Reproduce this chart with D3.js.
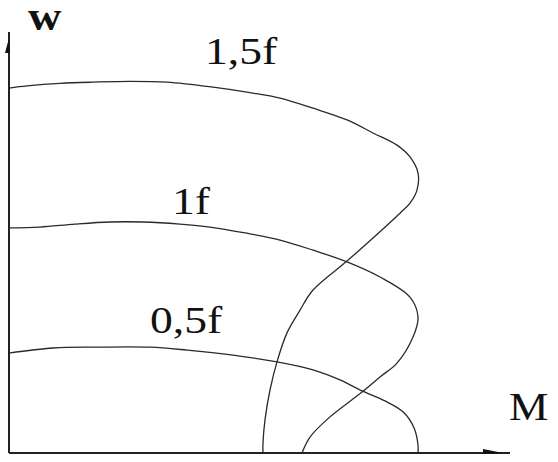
<!DOCTYPE html>
<html>
<head>
<meta charset="utf-8">
<script src="https://cdn.jsdelivr.net/npm/d3@7"></script>
<style>
  html, body { margin: 0; padding: 0; background: #fff; }
  svg text { font-family: "Liberation Serif", "DejaVu Serif", serif; fill: #111; }
</style>
</head>
<body>
<svg id="chart" width="558" height="462"></svg>
<script>
// Torque (M) vs speed (w) characteristics at three supply frequencies.
const curveNames = ["1,5f", "1f", "0,5f"];

const torque15 = [0, 3.6, 10.2, 16.8, 24.2, 31.6, 40.8, 48.2, 54.2, 60.8, 67.6, 72.8, 77.6, 80.2, 81.8, 81.6, 80.2, 78.2, 72.8, 67.6, 60.8, 58.2, 55.6, 53.6, 52.2, 51.2, 50.8, 50.8];
const speed15  = [86.9, 87.4, 88.0, 88.3, 88.5, 88.3, 87.1, 85.8, 84.5, 82.1, 79.3, 76.2, 73.3, 70.5, 66.7, 62.6, 59.5, 57.1, 51.2, 45.7, 38.8, 34.0, 28.6, 21.7, 15.0, 7.9, 2.4, 0];

const torque10 = [0, 6.2, 13.2, 20.2, 26.8, 34.2, 40.2, 47.2, 54.2, 60.8, 67.6, 74.2, 80.2, 81.8, 80.8, 77.6, 74.2, 70.6, 64.2, 60.2, 58.6];
const speed10  = [53.6, 53.8, 54.5, 55.0, 55.0, 54.5, 53.8, 52.4, 50.7, 48.3, 45.5, 41.9, 37.1, 32.4, 27.6, 21.4, 18.1, 14.5, 8.6, 3.8, 0];

const torque05 = [0, 8.8, 17.6, 28.2, 35.6, 44.8, 53.6, 60.8, 66.2, 70.6, 75.2, 78.8, 81.0, 81.8, 81.8];
const speed05  = [23.8, 25.0, 25.2, 25.2, 24.5, 23.3, 21.7, 19.8, 17.4, 14.8, 12.4, 9.8, 6.0, 1.9, 0];

// Label anchor points (torque, speed) for each curve name
const labelTorque = [39.2, 32.6, 28.2];
const labelSpeed  = [92.6, 56.9, 28.6];

const svg = d3.select("#chart");

const x = d3.scaleLinear().domain([0, 100]).range([9, 509]);
const y = d3.scaleLinear().domain([0, 100]).range([453, 33]);

const series = [
  { name: curveNames[0], pts: d3.zip(torque15, speed15) },
  { name: curveNames[1], pts: d3.zip(torque10, speed10) },
  { name: curveNames[2], pts: d3.zip(torque05, speed05) }
];

const line = d3.line()
  .x(d => x(d[0]))
  .y(d => y(d[1]))
  .curve(d3.curveCatmullRom.alpha(0.5));

svg.append("g")
  .selectAll("path")
  .data(series)
  .join("path")
  .attr("d", d => line(d.pts))
  .attr("fill", "none")
  .attr("stroke", "#2a2a2a")
  .attr("stroke-width", 1.3);

// Axes with arrowheads
const x0 = x(0), y0 = y(0);
const axes = svg.append("g").attr("stroke", "#222").attr("fill", "none");
axes.append("line")
  .attr("x1", x0).attr("y1", y0)
  .attr("x2", x0).attr("y2", y0 - 421)
  .attr("stroke-width", 2);
axes.append("line")
  .attr("x1", x0).attr("y1", y0)
  .attr("x2", x0 + 501).attr("y2", y0)
  .attr("stroke-width", 2);

svg.append("path")
  .attr("d", `M${x0 - 4},${y0 - 400} L${x0},${y0 - 415} L${x0 + 1},${y0 - 400} Z`)
  .attr("fill", "#111");
svg.append("path")
  .attr("d", `M${x0 + 474},${y0 - 4} L${x0 + 494},${y0} L${x0 + 474},${y0 + 1} Z`)
  .attr("fill", "#111");

// Axis titles (slightly widened serif lettering)
svg.append("text")
  .attr("transform", "translate(28,30) scale(1.1,1)")
  .attr("font-size", 42)
  .attr("font-weight", "bold")
  .text("w");
svg.append("text")
  .attr("transform", "translate(509,420) scale(1.08,1)")
  .attr("font-size", 41)
  .text("M");

// Curve labels
svg.append("g")
  .selectAll("text")
  .data(series)
  .join("text")
  .attr("transform", (d, i) => `translate(${x(labelTorque[i])},${y(labelSpeed[i])}) scale(1.2,1)`)
  .attr("font-size", 38)
  .text(d => d.name);
</script>
</body>
</html>
